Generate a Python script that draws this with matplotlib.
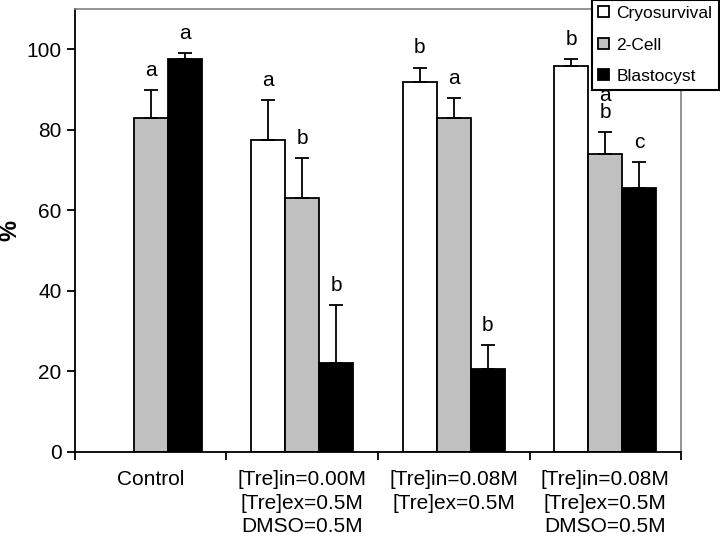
import matplotlib.pyplot as plt
import numpy as np

plt.rcParams['font.family'] = ['Liberation Sans', 'DejaVu Sans']

groups = ['Control', '[Tre]in=0.00M\n[Tre]ex=0.5M\nDMSO=0.5M',
          '[Tre]in=0.08M\n[Tre]ex=0.5M', '[Tre]in=0.08M\n[Tre]ex=0.5M\nDMSO=0.5M']
series = ['Cryosurvival', '2-Cell', 'Blastocyst']
cryo = [np.nan, 77.5, 92.0, 96.0]
cryo_err = [0, 10.0, 3.5, 1.5]
cell2 = [83.0, 63.0, 83.0, 74.0]
cell2_err = [7.0, 10.0, 5.0, 5.5]
blast = [97.5, 22.0, 20.5, 65.5]
blast_err = [1.5, 14.5, 6.0, 6.5]
cryo_lbl = ['', 'a', 'b', 'b']
cell2_lbl = ['a', 'b', 'a', 'a\nb']
blast_lbl = ['a', 'b', 'b', 'c']

fig = plt.figure(figsize=(7.2, 5.4), dpi=100)
ax = fig.add_axes([0.104, 0.163, 0.842, 0.820])

x = np.arange(len(groups))
w = 0.225
offs = [-w, 0, w]
colors = ['white', '#c0c0c0', 'black']
vals = [cryo, cell2, blast]
errs = [cryo_err, cell2_err, blast_err]
lbls = [cryo_lbl, cell2_lbl, blast_lbl]

handles = []
for i in range(3):
    v = np.array(vals[i], dtype=float)
    e = np.array(errs[i], dtype=float)
    b = ax.bar(x + offs[i], v, w, color=colors[i], edgecolor='black', linewidth=1.3,
               label=series[i], zorder=2)
    handles.append(b)
    ax.errorbar(x + offs[i], v, yerr=[np.zeros_like(e), e], fmt='none',
                ecolor='black', elinewidth=1.3, capsize=5, capthick=1.3, zorder=3)
    for j in range(len(groups)):
        if np.isnan(v[j]):
            continue
        ax.text(x[j] + offs[i], v[j] + e[j] + 2.5, lbls[i][j], ha='center', va='bottom',
                fontsize=15, linespacing=0.85)

ax.set_xlim(-0.5, 3.5)
ax.set_ylim(0, 110)
ax.set_yticks([0, 20, 40, 60, 80, 100])
ax.set_xticks([-0.5, 0.5, 1.5, 2.5, 3.5])
ax.set_xticklabels([])
ax.set_xticks(x, minor=True)
ax.set_xticklabels(groups, minor=True, fontsize=15, linespacing=1.3, va='top')
ax.tick_params(axis='x', which='minor', length=0, pad=13)
ax.tick_params(axis='x', which='major', length=6, width=1.3, direction='out')
ax.tick_params(axis='y', labelsize=15, length=6, width=1.3, direction='out')
ax.set_ylabel('%', fontsize=17, fontweight='bold')
ax.yaxis.set_label_coords(-0.088, 0.5)
for s in ['left', 'bottom']:
    ax.spines[s].set_linewidth(1.3)
for s in ['top', 'right']:
    ax.spines[s].set_color('#808080')
    ax.spines[s].set_linewidth(1.2)

leg = fig.legend(handles, series, loc='upper right', bbox_to_anchor=(0.998, 1.0),
                 borderaxespad=0, fontsize=12.5, frameon=True, fancybox=False,
                 edgecolor='black', framealpha=1, handlelength=0.6, handleheight=0.6,
                 handletextpad=0.45, labelspacing=0.95, borderpad=0.35)
leg.get_frame().set_linewidth(1.5)

fig.savefig('out.png', dpi=100)
